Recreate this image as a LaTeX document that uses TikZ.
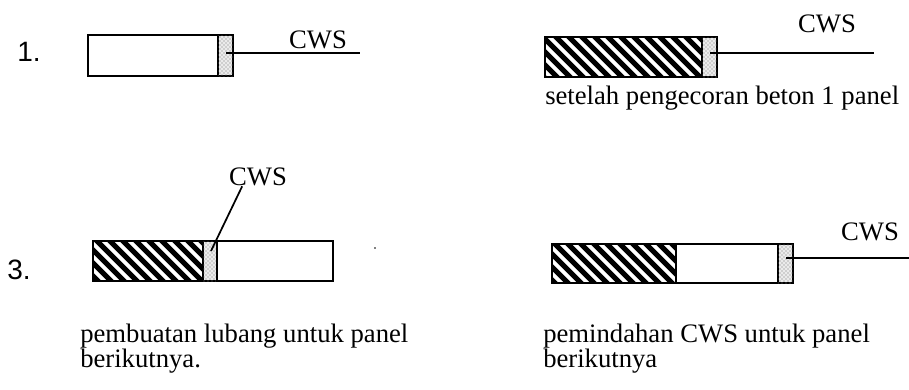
\documentclass[tikz,border=0pt]{standalone}
\usepackage{fontspec}
\setmainfont{Liberation Serif}
\newfontfamily\numfont{Liberation Sans}
\usetikzlibrary{positioning,patterns}

% diagonal hatching of a cast panel, corners #1 and #2
\newcommand{\hatchpanel}[2]{%
	\begin{scope}
		\clip #1 rectangle #2;
		\fill[white] #1 rectangle #2;
		\foreach \c in {-300,-287,...,950}
			\draw[line width=3.9pt] (\c,0) -- ++(420,420);
	\end{scope}
	\draw[panel] #1 rectangle #2;}

\begin{document}
\begin{tikzpicture}[x=0.75pt,y=-0.75pt,
		panel/.style={line width=1pt},
		cws/.style={line width=1pt,fill=black!8,postaction={pattern=crosshatch dots,pattern color=black!55}},
		lead/.style={line width=0.8pt},
		lbl/.style={font=\fontsize{20}{22}\selectfont,inner sep=0pt},
		num/.style={font=\numfont\fontsize{21}{24}\selectfont,inner sep=0pt},
		capt/.style={font=\fontsize{20}{22}\selectfont,inner sep=0pt,anchor=west}]
		
		\useasboundingbox (0,0) rectangle (909,389);
		
		% 1. empty panel with CWS
		\node[num] (n1) at (29,52) {1.};
		\draw[panel] (88,35) rectangle (218,76);
		\draw[cws] (218,35) rectangle (233,76);
		\coordinate (s1) at (226,53);
		\coordinate (e1) at (360,53);
		\draw[lead] (s1) -- (e1);
		\node[lbl] (cws1) at (318,40) {CWS};
		
		% 2 after casting
		\node[num] (n2) at (563,50) {2};
		\hatchpanel{(545,37)}{(702,77)}
		\draw[cws] (702,37) rectangle (717,77);
		\coordinate (s2) at (710,53);
		\coordinate (e2) at (874,53);
		\draw[lead] (s2) -- (e2);
		\node[lbl] (cws2) at (827,24) {CWS};
		\node[capt] (c2) at (545,98) {setelah pengecoran beton 1 panel};
		
		% 3. hole for next panel
		\node[num] (n3) at (19,270) {3.};
		\hatchpanel{(93,241)}{(203,281)}
		\draw[cws] (203,241) rectangle (217,281);
		\draw[panel] (217,241) rectangle (333,281);
		\coordinate (s3) at (211,251);
		\node[lbl] (cws3) at (258,177) {CWS};
		\draw[lead,line width=1.3pt] ([xshift=10pt]cws3.south west) -- (s3);
		\fill (375,248) circle (0.9);
		\node[capt] (c3) at (80,336) {pembuatan lubang untuk panel};
		\node[capt] (d3) at (80,361) {berikutnya.};
		
		% 3 moving the CWS
		\node[num] (n4) at (587,257) {3};
		\hatchpanel{(552,244)}{(676,283)}
		\draw[panel] (676,244) rectangle (778,283);
		\draw[cws] (778,244) rectangle (793,283);
		\coordinate (s4) at (786,258);
		\coordinate (e4) at (909,258);
		\draw[lead] (s4) -- (e4);
		\node[lbl] (cws4) at (870,232) {CWS};
		\node[capt] (c4) at (543,336) {pemindahan CWS untuk panel};
		\node[capt] (d4) at (543,361) {berikutnya};
		
	\end{tikzpicture}
\end{document}
